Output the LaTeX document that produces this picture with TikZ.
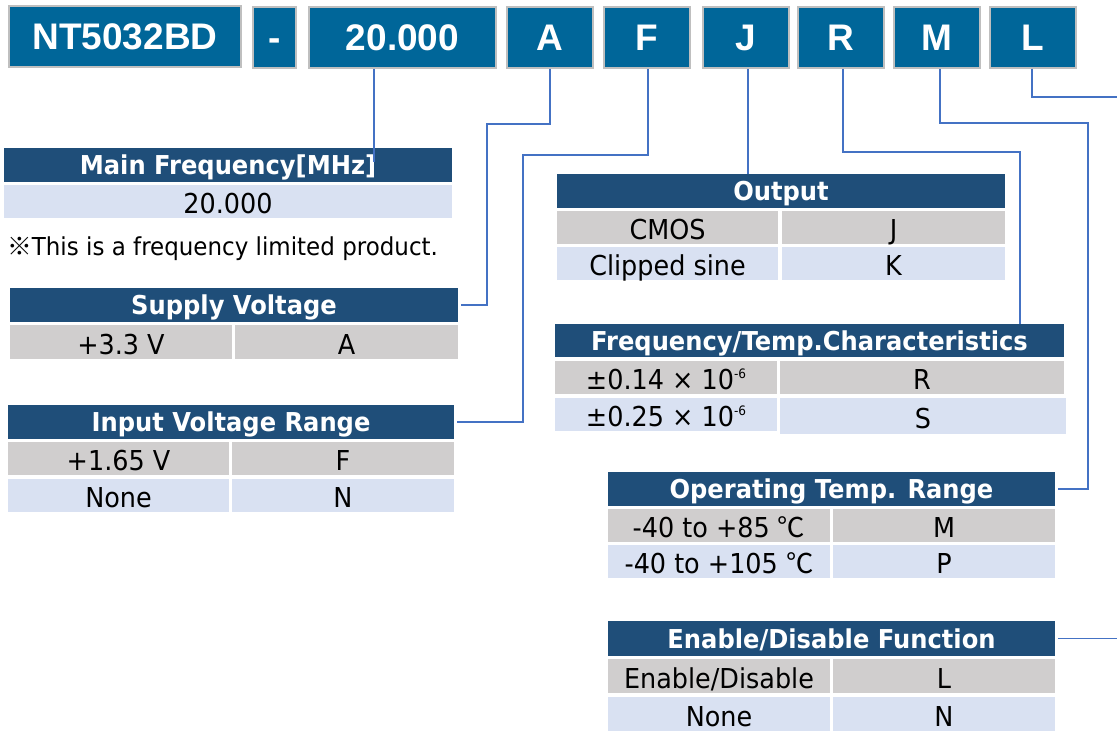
\documentclass[tikz,border=0pt]{standalone}
\usepackage{fontspec}
\setmainfont{DejaVu Sans}[FakeStretch=0.93]
\newfontfamily\topfont{Liberation Sans}
\newfontfamily\cjk{Noto Sans CJK JP}
\usetikzlibrary{calc}
\definecolor{topblue}{HTML}{006699}
\definecolor{topborder}{HTML}{BFBFBF}
\definecolor{hdrblue}{HTML}{1F4E79}
\definecolor{rowgray}{HTML}{D0CECE}
\definecolor{rowblue}{HTML}{D9E1F2}
\definecolor{connblue}{HTML}{4472C4}
\tikzset{
  topbox/.style={fill=topblue, draw=topborder, line width=1.5pt, text=white,
    font=\topfont\bfseries\fontsize{37}{40}\selectfont, inner sep=0pt, text height=26.5pt, text depth=0pt},
  hdr/.style={fill=hdrblue, text=white, font=\bfseries\fontsize{26}{30}\selectfont,
    inner sep=0pt, outer sep=0pt, text height=19pt, text depth=0pt},
  graycell/.style={fill=rowgray, text=black, font=\fontsize{27.4}{30}\selectfont,
    inner sep=0pt, outer sep=0pt, text height=24pt, text depth=0pt},
  bluecell/.style={graycell, fill=rowblue},
  conn/.style={draw=connblue, line width=1.2pt},
}
\newcommand\cell[7]{\node[#6, minimum width={(#4-#2)*1pt}, minimum height={(#5-#3)*1pt}]
  (#1) at ({(#2+#4)/2},{(#3+#5)/2}) {#7};}
\newcommand\tenm{10\raisebox{11pt}{\fontsize{13}{13}\selectfont -6}}
\begin{document}
\begin{tikzpicture}[x=1pt, y=-1pt]
\useasboundingbox (0,0) rectangle (1117,731);
% top part number boxes
\cell{bNT}{9}{6}{241}{67}{topbox}{NT5032BD}
\cell{bDash}{253}{7}{296}{68}{topbox}{-}
\cell{b20}{309}{7}{496}{68}{topbox}{20.000}
\cell{bA}{507}{7}{593}{68}{topbox}{A}
\cell{bF}{604}{7}{690}{68}{topbox}{F}
\cell{bJ}{703}{7}{789}{68}{topbox}{J}
\cell{bR}{798}{7}{884}{68}{topbox}{R}
\cell{bM}{894}{7}{980}{68}{topbox}{M}
\cell{bL}{990}{7}{1076}{68}{topbox}{L}
% Main frequency
\cell{mfh}{4}{148}{452}{182}{hdr}{Main Frequency[MHz]}
\cell{mfv}{4}{185}{452}{218}{bluecell}{20.000}
\node[anchor=base west, inner sep=0pt, font=\fontsize{24.7}{28}\selectfont] (note) at (7,255) {{\cjk ※}This is a frequency limited product.};
% Supply voltage
\cell{svh}{10}{288}{458}{322}{hdr}{Supply Voltage}
\cell{sv1a}{10}{325}{232}{359}{graycell}{+3.3 V}
\cell{sv1b}{235}{325}{458}{359}{graycell}{A}
% Input voltage range
\cell{ivh}{8}{405}{454}{439}{hdr}{Input Voltage Range}
\cell{iv1a}{8}{442}{229}{475}{graycell}{+1.65 V}
\cell{iv1b}{232}{442}{454}{475}{graycell}{F}
\cell{iv2a}{8}{479}{229}{512}{bluecell}{None}
\cell{iv2b}{232}{479}{454}{512}{bluecell}{N}
% Output
\cell{oh}{557}{174}{1005}{208}{hdr}{Output}
\cell{o1a}{557}{211}{778}{244}{graycell}{CMOS}
\cell{o1b}{782}{211}{1005}{244}{graycell}{J}
\cell{o2a}{557}{247}{778}{280}{bluecell}{Clipped sine}
\cell{o2b}{782}{247}{1005}{280}{bluecell}{K}
% Frequency/Temp
\cell{fh}{555}{324}{1064}{357}{hdr}{Frequency/Temp.Characteristics}
\cell{f1a}{555}{361}{777}{394}{graycell}{±0.14 × \tenm}
\cell{f1b}{780}{361}{1064}{394}{graycell}{R}
\cell{f2a}{555}{398}{777}{431}{bluecell}{±0.25 × \tenm}
\cell{f2b}{780}{398}{1066}{434}{bluecell}{S}
% Operating temp
\cell{oph}{608}{472}{1055}{506}{hdr}{Operating Temp. Range}
\cell{op1a}{608}{509}{830}{542}{graycell}{-40 to +85 {\cjk ℃}}
\cell{op1b}{833}{509}{1055}{542}{graycell}{M}
\cell{op2a}{608}{545}{830}{578}{bluecell}{-40 to +105 {\cjk ℃}}
\cell{op2b}{833}{545}{1055}{578}{bluecell}{P}
% Enable/Disable
\cell{enh}{608}{621}{1055}{656}{hdr}{Enable/Disable Function}
\cell{en1a}{608}{659}{830}{693}{graycell}{Enable/Disable}
\cell{en1b}{833}{659}{1055}{693}{graycell}{L}
\cell{en2a}{608}{697}{830}{731}{bluecell}{None}
\cell{en2b}{833}{697}{1055}{731}{bluecell}{N}
% connectors
\coordinate (e20) at (374,162);
\coordinate (eL) at (1117,97);
\coordinate (eEn) at (1117,638);
\draw[conn] (b20.south -| e20) -- (e20);
\draw[conn] (bA.south -| 550,0) |- (487,124) |- ([xshift=3pt]svh.east);
\draw[conn] (bF.south -| 648,0) |- (523,155) |- ([xshift=3pt]ivh.east);
\draw[conn] (bJ.south -| 748,0) -- (oh.north -| 748,0);
\draw[conn] (bR.south -| 843,0) |- (1020,152) -- (fh.north -| 1020,0);
\draw[conn] (bM.south -| 940,0) |- (1088,123) |- ([xshift=3pt]oph.east);
\draw[conn] (bL.south -| 1032,0) |- (eL);
\draw[conn] ([xshift=3pt]enh.east) -- (enh.east -| eEn);
\end{tikzpicture}
\end{document}
